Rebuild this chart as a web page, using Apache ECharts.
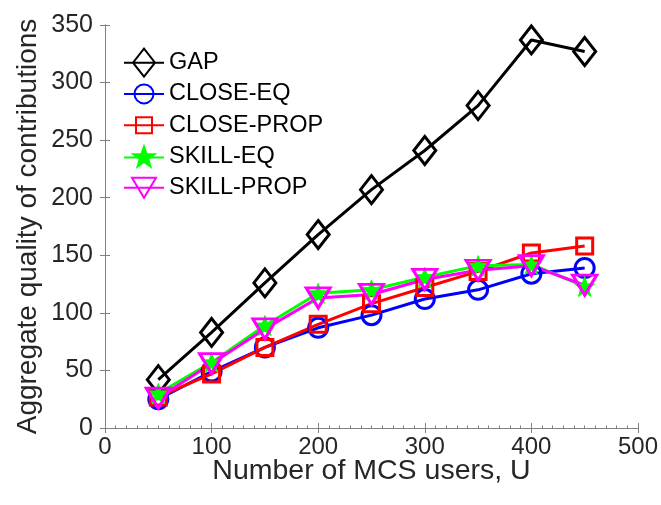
<!DOCTYPE html>
<html><head><meta charset="utf-8">
<script src="https://cdn.jsdelivr.net/npm/echarts@6/dist/echarts.min.js"></script>
<style>html,body{margin:0;padding:0;background:#fff}#c{width:661px;height:505px}</style>
</head><body><div id="c"></div>
<script>
const users = [50, 100, 150, 200, 250, 300, 350, 400, 450];
const gap = [42, 83, 126, 168, 207, 241, 280, 337, 327];
const closeEq = [25, 49, 70, 87, 98, 112, 120, 134, 139];
const closeProp = [27, 47, 70, 90, 108, 122, 136, 152, 158];
const skillEq = [30, 57, 89, 117, 120, 131, 141, 142, 123];
const skillProp = [26, 56, 86, 113, 116, 129, 137, 141, 124];
const xTicks = [0, 100, 200, 300, 400, 500];
const yTicks = [0, 50, 100, 150, 200, 250, 300, 350];

const starPts = 'M20,4 L22.59,11.44 L30.46,11.6 L24.18,16.36 L26.47,23.9 L20,19.4 L13.53,23.9 L15.82,16.36 L9.54,11.6 L17.41,11.44 Z';
const star = 'path://' + starPts;
const legendIcons = {
  'GAP': 'path://M0,15 L40,15 M20,1 L31,15 L20,29 L9,15 Z',
  'CLOSE-EQ': 'path://M0,15 L40,15 M10.5,15 A9.5,9.5 0 1 1 29.5,15 A9.5,9.5 0 1 1 10.5,15 Z',
  'CLOSE-PROP': 'path://M0,15 L40,15 M12,7 L28,7 L28,23 L12,23 Z',
  'SKILL-EQ': 'path://M0,15 L40,15 ' + starPts,
  'SKILL-PROP': 'path://M0,15 L40,15 M8,5 L32,5 L20,25 Z'
};
const font = '"Liberation Sans", Arial, Helvetica, sans-serif';
const axisGrey = '#808080';
const textCol = '#262626';

function pairs(v) { return users.map((u, i) => [u, v[i]]); }
function ser(name, data, color, symbol, size, opts) {
  return Object.assign({
    name, type: 'line', data: pairs(data), symbol, symbolSize: size,
    lineStyle: { color, width: 3 },
    itemStyle: { color: 'rgba(0,0,0,0)', borderColor: color, borderWidth: 3 },
    emphasis: { disabled: true }, animation: false, z: 3
  }, opts || {});
}

const names = ['GAP', 'CLOSE-EQ', 'CLOSE-PROP', 'SKILL-EQ', 'SKILL-PROP'];
const chart = echarts.init(document.getElementById('c'), null, { renderer: 'canvas' });
chart.setOption({
  animation: false,
  textStyle: { fontFamily: font },
  grid: { left: 105, right: 23, top: 25, bottom: 77, containLabel: false },
  legend: {
    orient: 'vertical', left: 118, top: 42, itemGap: 0,
    itemWidth: 40, itemHeight: 30, symbolKeepAspect: true,
    textStyle: { fontSize: 23.5, lineHeight: 31.3, color: '#000', fontFamily: font },
    data: names.map(n => ({ name: n, icon: legendIcons[n] }))
  },
  xAxis: [{
    type: 'value', min: 0, max: 500, interval: 100,
    name: 'Number of MCS users, U', nameLocation: 'middle', nameGap: 29, nameMoveOverlap: false,
    nameTextStyle: { fontSize: 28.5, color: textCol, fontFamily: font },
    axisLine: { show: true, lineStyle: { color: axisGrey, width: 1 } },
    axisTick: { show: true, inside: true, length: 5, lineStyle: { color: axisGrey } },
    minorTick: { show: true, splitNumber: 10, length: 2.5, lineStyle: { color: axisGrey } },
    axisLabel: { fontSize: 24, color: textCol, margin: 7, fontFamily: font,
      formatter: v => xTicks.includes(v) ? String(v) : '' },
    splitLine: { show: false }
  }, {
    type: 'value', min: 0, max: 500, interval: 100, position: 'top',
    axisLine: { show: true, lineStyle: { color: axisGrey, width: 1 } },
    axisTick: { show: true, inside: true, length: 5, lineStyle: { color: axisGrey } },
    axisLabel: { show: false }, splitLine: { show: false }
  }],
  yAxis: [{
    type: 'value', min: 0, max: 350, interval: 50,
    name: 'Aggregate quality of contributions', nameLocation: 'middle', nameGap: 63, nameMoveOverlap: false,
    nameTextStyle: { fontSize: 28, color: textCol, fontFamily: font },
    axisLine: { show: true, lineStyle: { color: axisGrey, width: 1 } },
    axisTick: { show: true, inside: true, length: 5, lineStyle: { color: axisGrey } },
    axisLabel: { fontSize: 25, color: textCol, margin: 12, fontFamily: font,
      formatter: v => yTicks.includes(v) ? String(v) : '' },
    splitLine: { show: false }
  }, {
    type: 'value', min: 0, max: 350, interval: 50, position: 'right',
    axisLine: { show: true, lineStyle: { color: axisGrey, width: 1 } },
    axisTick: { show: true, inside: true, length: 5, lineStyle: { color: axisGrey } },
    axisLabel: { show: false }, splitLine: { show: false }
  }],
  series: [
    ser('GAP', gap, '#000000', 'diamond', [22, 28]),
    ser('CLOSE-EQ', closeEq, '#0000ff', 'circle', 19),
    ser('CLOSE-PROP', closeProp, '#ff0000', 'rect', 16),
    ser('SKILL-EQ', skillEq, '#00ff00', star, 20, {
      itemStyle: { color: '#00ff00', borderColor: '#00ff00', borderWidth: 1 } }),
    ser('SKILL-PROP', skillProp, '#ff00ff', 'triangle', [24, 20], {
      symbolRotate: 180 })
  ]
});
</script></body></html>
